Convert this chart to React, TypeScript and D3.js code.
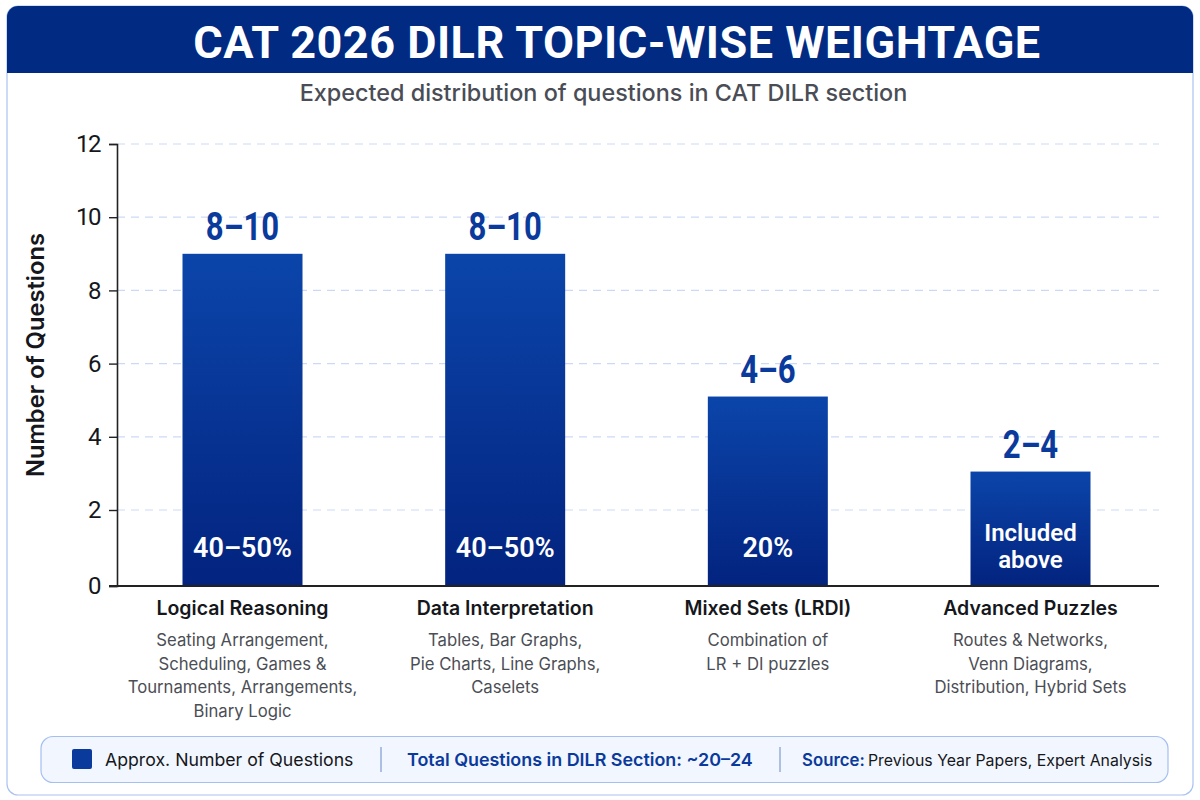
import * as d3 from "d3";
import { useEffect, useRef } from "react";

// values
const categories = ["Logical Reasoning", "Data Interpretation", "Mixed Sets (LRDI)", "Advanced Puzzles"];
const barValues = [9, 9, 5.1, 3.05];
const rangeLabels = ["8–10", "8–10", "4–6", "2–4"];
const shareLabels = [["40–50%"], ["40–50%"], ["20%"], ["Included", "above"]];
const topicLines = [
  ["Seating Arrangement,", "Scheduling, Games &", "Tournaments, Arrangements,", "Binary Logic"],
  ["Tables, Bar Graphs,", "Pie Charts, Line Graphs,", "Caselets"],
  ["Combination of", "LR + DI puzzles"],
  ["Routes & Networks,", "Venn Diagrams,", "Distribution, Hybrid Sets"],
];
const yTicks = [0, 2, 4, 6, 8, 10, 12];

const WIDTH = 1200;
const HEIGHT = 800;
const NAVY = "#012a82";
const BLUE = "#0a3a9c";
const BODY_FONT = "Inter, 'Noto Sans', sans-serif";
const NUM_FONT = "Roboto, 'Noto Sans', sans-serif";

export default function App() {
  const svgRef = useRef<SVGSVGElement | null>(null);

  useEffect(() => {
    if (!svgRef.current) return;
    const svg = d3.select(svgRef.current);
    svg.selectAll("*").remove();

    const margin = { top: 144, right: 41, bottom: 214, left: 117 };
    const plotBottom = HEIGHT - margin.bottom;
    const plotRight = WIDTH - margin.right;

    const x = d3.scalePoint<string>().domain(categories).range([242.5, 1030.5]);
    // the picture's bottom tick step is a bit taller than the rest
    const y = d3.scaleLinear().domain([0, 2, 12]).range([plotBottom, 510, margin.top]);
    const barWidth = 120;

    const defs = svg.append("defs");
    const grad = defs
      .append("linearGradient")
      .attr("id", "barFill")
      .attr("x1", 0)
      .attr("y1", 0)
      .attr("x2", 0)
      .attr("y2", 1);
    grad.append("stop").attr("offset", "0%").attr("stop-color", "#0b45aa");
    grad.append("stop").attr("offset", "100%").attr("stop-color", "#03237f");

    // card + header
    svg
      .append("rect")
      .attr("x", 7)
      .attr("y", 6)
      .attr("width", 1186)
      .attr("height", 789)
      .attr("rx", 11)
      .attr("fill", "#fff")
      .attr("stroke", "#a9c2f2")
      .attr("stroke-width", 1.2);
    svg
      .append("path")
      .attr("d", "M7,73V17a11,11 0 0 1 11,-11H1182a11,11 0 0 1 11,11V73Z")
      .attr("fill", NAVY);

    svg
      .append("text")
      .attr("x", 617)
      .attr("y", 58)
      .attr("text-anchor", "middle")
      .attr("font-family", NUM_FONT)
      .attr("font-weight", 700)
      .attr("font-size", 45)
      .attr("letter-spacing", 0.5)
      .attr("fill", "#fff")
      .text("CAT 2026 DILR TOPIC-WISE WEIGHTAGE");

    svg
      .append("text")
      .attr("x", 603.5)
      .attr("y", 101)
      .attr("text-anchor", "middle")
      .attr("font-family", BODY_FONT)
      .attr("font-weight", 500)
      .attr("font-size", 23.4)
      .attr("fill", "#4a4d55")
      .text("Expected distribution of questions in CAT DILR section");

    // gridlines
    svg
      .append("g")
      .selectAll("line")
      .data(yTicks.filter((d) => d > 0))
      .enter()
      .append("line")
      .attr("x1", margin.left)
      .attr("x2", 1159)
      .attr("y1", (d) => y(d))
      .attr("y2", (d) => y(d))
      .attr("stroke", "#ccd9f6")
      .attr("stroke-width", 1.2)
      .attr("stroke-dasharray", "8 6");

    // bars
    const bars = svg
      .append("g")
      .selectAll("g")
      .data(categories)
      .enter()
      .append("g");

    bars
      .append("rect")
      .attr("x", (d) => x(d)! - barWidth / 2)
      .attr("y", (_, i) => y(barValues[i]))
      .attr("width", barWidth)
      .attr("height", (_, i) => plotBottom - y(barValues[i]))
      .attr("fill", "url(#barFill)");

    // range labels are narrower than plain Roboto
    bars
      .append("text")
      .attr("transform", (d, i) => `translate(${x(d)},${y(barValues[i]) - 14}) scale(0.82,1)`)
      .attr("text-anchor", "middle")
      .attr("font-family", NUM_FONT)
      .attr("font-weight", 700)
      .attr("font-size", 38)
      .attr("fill", BLUE)
      .text((_, i) => rangeLabels[i]);

    // labels inside the bars, bottom aligned
    bars.each(function (d, i) {
      const g = d3.select(this);
      const lines = shareLabels[i];
      const lastBaseline = lines.length > 1 ? 568 : 557;
      lines.forEach((line, j) => {
        g.append("text")
          .attr("x", x(d)!)
          .attr("y", lastBaseline - (lines.length - 1 - j) * 27)
          .attr("text-anchor", "middle")
          .attr("font-family", NUM_FONT)
          .attr("font-weight", 600)
          .attr("font-size", lines.length > 1 ? 24 : 27)
          .attr("fill", "#fff")
          .text(line);
      });
      g.append("text")
        .attr("x", x(d)!)
        .attr("y", 615)
        .attr("text-anchor", "middle")
        .attr("font-family", BODY_FONT)
        .attr("font-weight", 600)
        .attr("font-size", 19.5)
        .attr("fill", "#15171c")
        .text(d);
      topicLines[i].forEach((line, j) => {
        g.append("text")
          .attr("x", x(d)!)
          .attr("y", 646 + j * 23.7)
          .attr("text-anchor", "middle")
          .attr("font-family", BODY_FONT)
          .attr("font-size", 16.7)
          .attr("fill", "#4b4e55")
          .text(line);
      });
    });

    // axes
    const yAxis = svg
      .append("g")
      .attr("transform", `translate(${margin.left},0)`)
      .call(d3.axisLeft(y).tickValues(yTicks).tickSize(8).tickPadding(9));
    yAxis.select(".domain").attr("stroke", "#222").attr("stroke-width", 1.6);
    yAxis.selectAll(".tick line").attr("stroke", "#222").attr("stroke-width", 1.4);
    yAxis
      .selectAll("text")
      .attr("font-family", NUM_FONT)
      .attr("font-size", 24)
      .attr("letter-spacing", -1.5)
      .attr("fill", "#15171c");

    svg
      .append("line")
      .attr("x1", 109)
      .attr("x2", 1159)
      .attr("y1", plotBottom)
      .attr("y2", plotBottom)
      .attr("stroke", "#222")
      .attr("stroke-width", 2);

    svg
      .append("text")
      .attr("transform", "translate(44,355) rotate(-90)")
      .attr("text-anchor", "middle")
      .attr("font-family", BODY_FONT)
      .attr("font-weight", 600)
      .attr("font-size", 23.7)
      .attr("fill", "#15171c")
      .text("Number of Questions");

    // legend strip
    svg
      .append("rect")
      .attr("x", margin.right)
      .attr("y", 736.5)
      .attr("width", plotRight - margin.right + 9)
      .attr("height", 46)
      .attr("rx", 12)
      .attr("fill", "#f2f6fe")
      .attr("stroke", "#a5bff0")
      .attr("stroke-width", 1.2);
    svg
      .append("rect")
      .attr("x", 72)
      .attr("y", 749)
      .attr("width", 20)
      .attr("height", 20)
      .attr("rx", 2)
      .attr("fill", BLUE);
    svg
      .selectAll("line.sep")
      .data([381, 780])
      .enter()
      .append("line")
      .attr("class", "sep")
      .attr("x1", (d) => d)
      .attr("x2", (d) => d)
      .attr("y1", 747)
      .attr("y2", 772)
      .attr("stroke", "#7f9bd0")
      .attr("stroke-width", 1.2);

    const legendText = (px: number, size: number, weight: number, fill: string, s: string) =>
      svg
        .append("text")
        .attr("x", px)
        .attr("y", 766)
        .attr("font-family", BODY_FONT)
        .attr("font-size", size)
        .attr("font-weight", weight)
        .attr("fill", fill)
        .text(s);

    legendText(105, 17.7, 400, "#15171c", "Approx. Number of Questions");
    legendText(407, 17.9, 600, BLUE, "Total Questions in DILR Section: ~20–24");
    legendText(802, 16.8, 600, BLUE, "Source:");
    legendText(868, 15.85, 400, "#15171c", "Previous Year Papers, Expert Analysis");
  }, []);

  return (
    <svg
      ref={svgRef}
      width={WIDTH}
      height={HEIGHT}
      style={{ position: "absolute", left: 0, top: 0, background: "#fff" }}
    />
  );
}
